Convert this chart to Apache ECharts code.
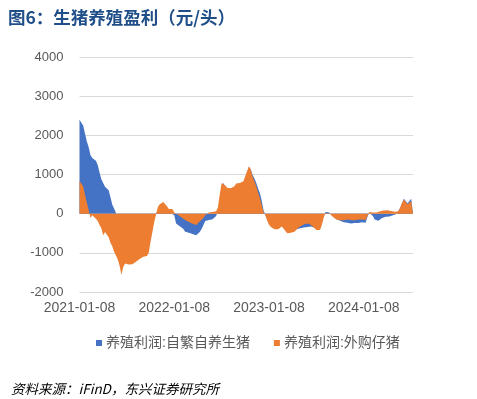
<!DOCTYPE html>
<html>
<head>
<meta charset="utf-8">
<script src="https://cdn.jsdelivr.net/npm/echarts@6/dist/echarts.min.js"></script>
<style>html,body{margin:0;padding:0;background:#fff;}#c{width:477px;height:399px;}</style>
</head>
<body>
<div id="c"></div>
<script>
const titleText = '图6：生猪养殖盈利（元/头）';
const sourceText = '资料来源：iFinD，东兴证券研究所';
const seriesNames = ['养殖利润:自繁自养生猪', '养殖利润:外购仔猪'];
const startDate = '2021-01-08';
const weekCount = 184;
const xTickLabels = ['2021-01-08', '2022-01-08', '2023-01-08', '2024-01-08'];
const yTicks = { min: -2000, max: 4000, interval: 1000 };

const selfBred = [
 2400,2350,2250,2050,1850,1700,1500,1420,1380,1350,
 1240,1050,880,780,690,700,600,420,230,130,
 20,-100,-250,-400,-500,-550,-600,-650,-700,-700,
 -700,-680,-650,-620,-600,-580,-560,-540,-500,-400,
 -250,-100,0,100,150,180,180,150,80,40,
 20,0,-40,-250,-300,-320,-340,-390,-460,-480,
 -490,-500,-520,-540,-550,-550,-470,-390,-290,-190,
 -150,-160,-160,-140,-120,-60,100,400,700,780,
 680,620,620,610,610,660,730,730,740,770,
 800,930,1060,1190,1130,990,900,780,640,520,
 330,80,-30,-150,-250,-300,-330,-360,-390,-360,
 -330,-300,-310,-400,-450,-460,-450,-450,-430,-400,
 -350,-370,-360,-350,-350,-340,-330,-330,-340,-360,
 -380,-400,-380,-250,-60,40,40,30,20,-60,
 -100,-140,-160,-180,-200,-220,-240,-230,-240,-250,
 -250,-240,-230,-240,-230,-220,-250,-230,-80,20,
 20,-60,-150,-200,-180,-150,-110,-90,-80,-80,
 -70,-60,-40,-30,-10,30,150,270,380,420,
 260,230,380,420
];
const purchased = [
 837,811,700,480,290,100,-110,-40,-90,-130,
 -190,-290,-370,-550,-470,-430,-600,-740,-830,-970,
 -1070,-1170,-1330,-1560,-1360,-1270,-1260,-1300,-1310,-1290,
 -1250,-1230,-1200,-1160,-1140,-1100,-1100,-1080,-1000,-720,
 -470,-220,-20,170,240,290,300,290,190,120,
 110,120,30,-20,-30,-60,-100,-100,-160,-190,
 -210,-230,-260,-290,-290,-250,-200,-150,-110,-40,
 10,30,40,45,50,60,170,500,780,830,
 720,660,660,650,650,700,770,770,780,810,
 830,960,1090,1210,1120,950,830,700,540,400,
 220,40,-40,-180,-280,-340,-370,-400,-430,-400,
 -370,-330,-340,-440,-500,-500,-490,-490,-460,-420,
 -360,-330,-300,-280,-260,-250,-260,-290,-330,-380,
 -420,-440,-420,-280,-100,10,20,10,-30,-80,
 -120,-150,-160,-170,-170,-170,-180,-150,-150,-160,
 -160,-170,-150,-150,-160,-150,-170,-160,-60,40,
 50,30,0,30,50,60,70,80,90,90,
 80,70,60,50,40,60,160,280,360,370,
 240,200,320,370
];

const dates = [];
(function(){
  const d0 = new Date(startDate + 'T00:00:00Z');
  for (let i = 0; i < weekCount; i++) {
    const d = new Date(d0.getTime() + i * 7 * 86400000);
    dates.push(d.toISOString().slice(0, 10));
  }
})();

const FONT = '"Liberation Sans", "Noto Sans CJK SC", sans-serif';
const chart = echarts.init(document.getElementById('c'), null, { renderer: 'canvas' });
chart.setOption({
  animation: false,
  backgroundColor: '#ffffff',
  title: [
    { text: titleText, left: 3, top: 4,
      textStyle: { fontFamily: '"Noto Sans CJK SC", sans-serif', fontSize: 17.5, fontWeight: 'bold', color: '#1F4E89' } },
    { text: sourceText, left: 6, top: 377,
      textStyle: { fontFamily: '"Noto Sans CJK SC", sans-serif', fontSize: 13.5, fontWeight: 'normal', fontStyle: 'italic', color: '#000000' } }
  ],
  legend: {
    data: seriesNames, left: 91, top: 331, itemWidth: 6, itemHeight: 6, itemGap: 24, icon: 'rect',
    textStyle: { fontFamily: FONT, fontSize: 14, color: '#595959', padding: [0,0,0,-1] }
  },
  grid: { left: 79.5, right: 64, top: 57, bottom: 107, containLabel: false },
  xAxis: {
    type: 'category', data: dates, boundaryGap: false,
    axisLine: { show: false }, axisTick: { show: false },
    axisLabel: {
      interval: function (i) { return i % 52 === 0; },
      formatter: function (v, i) { return xTickLabels[Math.round(i / 52)] || ''; },
      fontFamily: FONT, fontSize: 14, color: '#595959', margin: 9
    },
    splitLine: { show: false }
  },
  yAxis: {
    type: 'value', min: yTicks.min, max: yTicks.max, interval: yTicks.interval,
    axisLine: { show: false }, axisTick: { show: false },
    axisLabel: { fontFamily: FONT, fontSize: 13, color: '#595959', margin: 16,
      formatter: function (v) { return String(v); } },
    splitLine: { lineStyle: { color: '#d9d9d9', width: 1 } }
  },
  series: [
    { name: seriesNames[0], type: 'line', data: selfBred, showSymbol: false, symbol: 'none',
      lineStyle: { width: 0 }, itemStyle: { color: '#4472C4' }, areaStyle: { color: '#4472C4', opacity: 1 } },
    { name: seriesNames[1], type: 'line', data: purchased, showSymbol: false, symbol: 'none',
      lineStyle: { width: 0 }, itemStyle: { color: '#ED7D31' }, areaStyle: { color: '#ED7D31', opacity: 1 } }
  ]
});
</script>
</body>
</html>
